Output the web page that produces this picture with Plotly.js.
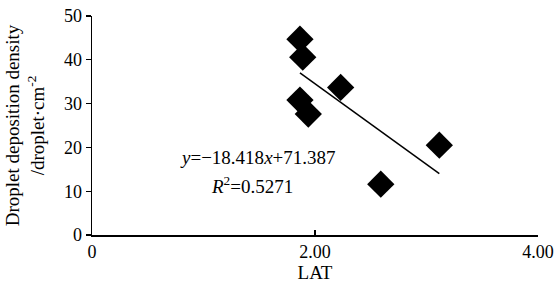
<!DOCTYPE html>
<html>
<head>
<meta charset="utf-8">
<script src="https://cdn.plot.ly/plotly-3.0.1.min.js"></script>
<style>html,body{margin:0;padding:0;background:#fff;}#chart{width:557px;height:289px;}</style>
</head>
<body>
<div id="chart"></div>
<script>
var latValues = [1.865, 1.89, 1.865, 1.94, 2.23, 3.115, 2.59];
var densityValues = [44.7, 40.6, 30.8, 27.6, 33.7, 20.5, 11.6];
var fitSlope = -18.418;
var fitIntercept = 71.387;
var xTickVals = [0, 2, 4];
var xTickText = ['0', '2.00', '4.00'];
var yTickVals = [0, 10, 20, 30, 40, 50];

var xMin = Math.min.apply(null, latValues);
var xMax = Math.max.apply(null, latValues);
var fitX = [xMin, xMax];
var fitY = fitX.map(function(x){ return fitSlope * x + fitIntercept; });

var serif = 'Liberation Serif, Times New Roman, serif';
var traces = [
  {x: latValues, y: densityValues, type: 'scatter', mode: 'markers',
   marker: {symbol: 'diamond', size: 21, color: '#000'}, hoverinfo: 'none'},
  {x: fitX, y: fitY, type: 'scatter', mode: 'lines',
   line: {color: '#000', width: 1.5}, hoverinfo: 'none'}
];
var layout = {
  width: 557, height: 289,
  margin: {l: 92, r: 19, t: 16, b: 54},
  paper_bgcolor: '#fff', plot_bgcolor: '#fff',
  showlegend: false,
  font: {family: serif, size: 18, color: '#000'},
  xaxis: {range: [0, 4], tickvals: xTickVals, ticktext: xTickText,
    showgrid: false, zeroline: false, showline: true, linecolor: '#000', linewidth: 1.5,
    ticks: 'inside', ticklen: 5, tickwidth: 1.2, tickcolor: '#000',
    tickfont: {family: serif, size: 18, color: '#000'},
    title: {text: 'LAT', font: {family: serif, size: 19, color: '#000'}, standoff: 2}},
  yaxis: {range: [0, 50], tickvals: yTickVals,
    showgrid: false, zeroline: false, showline: true, linecolor: '#000', linewidth: 1.5,
    ticks: 'outside', ticklen: 5, tickwidth: 1.2, tickcolor: '#000',
    tickfont: {family: serif, size: 18, color: '#000'},
    title: {text: 'Droplet deposition density<br>/droplet·cm<sup>-2</sup>',
      font: {family: serif, size: 19, color: '#000'}, standoff: 14}},
  annotations: [
    {xref: 'paper', yref: 'paper', x: (258-92)/446, y: (235-157)/219, xanchor: 'center', yanchor: 'middle',
     text: '<i>y</i>=\u221218.418<i>x</i>+71.387', showarrow: false,
     font: {family: serif, size: 19, color: '#000'}},
    {xref: 'paper', yref: 'paper', x: (252-92)/446, y: (235-185)/219, xanchor: 'center', yanchor: 'middle',
     text: '<i>R</i><sup>2</sup>=0.5271', showarrow: false,
     font: {family: serif, size: 19, color: '#000'}}
  ]
};
Plotly.newPlot('chart', traces, layout, {staticPlot: true, displayModeBar: false});
</script>
</body>
</html>
